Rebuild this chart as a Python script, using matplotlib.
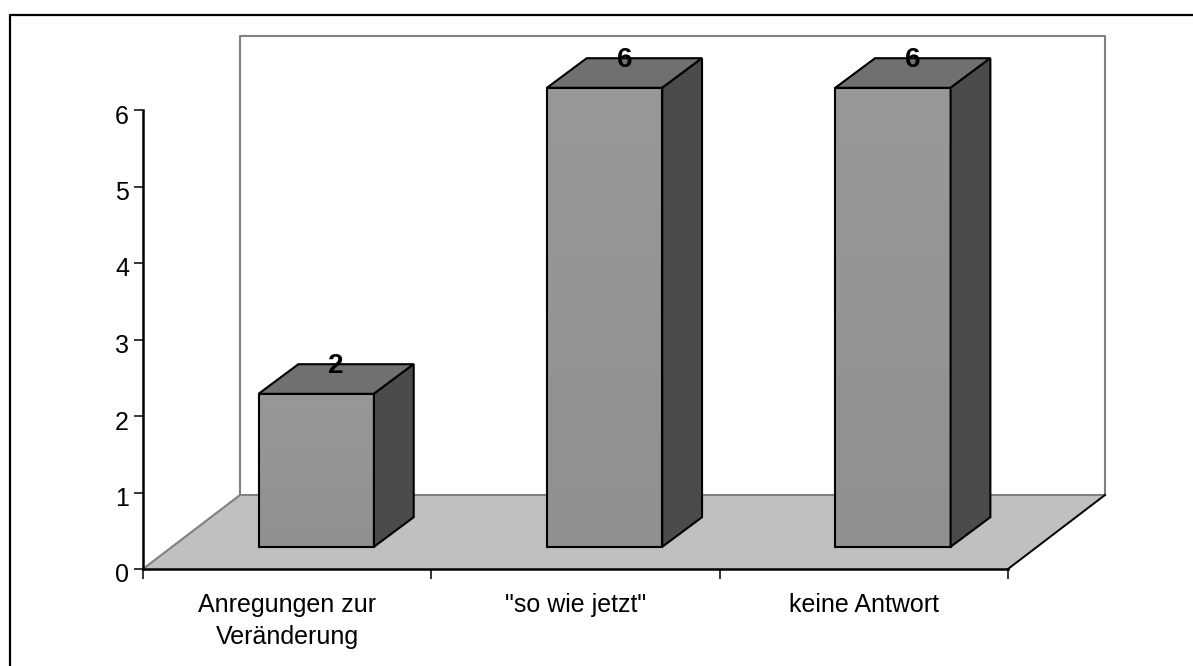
import numpy as np
import matplotlib
matplotlib.use("Agg")
import matplotlib.pyplot as plt
from matplotlib.colors import LinearSegmentedColormap
from matplotlib.lines import Line2D
from matplotlib.patches import Polygon
from matplotlib.transforms import ScaledTranslation

categories = ["Anregungen zur\nVeränderung", '"so wie jetzt"', "keine Antwort"]
values = [2, 6, 6]
y_ticks = [0, 1, 2, 3, 4, 5, 6]

W, H = 1193, 666
plt.rcParams["font.family"] = ["Liberation Sans", "DejaVu Sans"]

fig = plt.figure(figsize=(W / 100, H / 100), dpi=100, facecolor="white")
ax = fig.add_axes([143 / W, (H - 569) / H, 865 / W, 459 / H])

# depth of the fake 3d box in data units
dx = 97 / 865 * 3
dy = 74 / 459 * 6
bar_w = 0.4
front = 0.3
n = len(categories)


def shape(pts, face="none", edge="black", lw=1.5, z=3):
    p = Polygon(pts, closed=True, facecolor=face, edgecolor=edge, linewidth=lw,
                zorder=z, clip_on=False, joinstyle="miter")
    ax.add_patch(p)
    return p


# floor and back wall
shape([(0, 0), (dx, dy), (n + dx, dy), (n, 0)], face="#c0c0c0", edge="none", z=1)
ax.plot([0, dx, dx, n + dx, n + dx], [0, dy, 6 + dy, 6 + dy, dy],
        color="#808080", lw=1.5, zorder=1.5, clip_on=False)
ax.plot([dx, n + dx], [dy, dy], color="#808080", lw=1.5, zorder=1.5, clip_on=False)
ax.plot([n, n + dx], [0, dy], color="black", lw=1.4, zorder=1.5, clip_on=False)

# bars
grad = np.linspace(0, 1, 64).reshape(-1, 1)
cmap = LinearSegmentedColormap.from_list("front", ["#989898", "#909090"])
for i, v in enumerate(values):
    x0 = i + 0.5 - bar_w / 2 + front * dx
    x1 = x0 + bar_w
    y0 = front * dy
    y1 = y0 + v
    ox = 0.41 * dx
    oy = 0.4 * dy
    ax.imshow(grad, extent=(x0, x1, y0, y1), origin="upper", aspect="auto",
              cmap=cmap, zorder=3, clip_on=False)
    shape([(x0, y0), (x1, y0), (x1, y1), (x0, y1)])
    shape([(x0, y1), (x1, y1), (x1 + ox, y1 + oy), (x0 + ox, y1 + oy)], face="#707070")
    shape([(x1, y0), (x1 + ox, y0 + oy), (x1 + ox, y1 + oy), (x1, y1)], face="#4b4b4b")
    ax.annotate(str(v), ((x0 + x1 + ox) / 2, y1 + oy), xytext=(0, -1.5),
                textcoords="offset points", ha="center", va="center",
                fontsize=20, fontweight="bold", color="black", zorder=5,
                annotation_clip=False)

ax.set_xlim(0, n)
ax.set_ylim(0, 6)

ax.patch.set_visible(False)
for side in ("top", "right"):
    ax.spines[side].set_visible(False)
for side in ("left", "bottom"):
    ax.spines[side].set_linewidth(1.8)
    ax.spines[side].set_zorder(2)

ax.set_yticks(y_ticks)
ax.tick_params(axis="y", length=6.5, width=1.1, labelsize=18, pad=3.5)
# y labels sit a little below their ticks in the original
down = ScaledTranslation(0, -4 / 100, fig.dpi_scale_trans)
for lab in ax.get_yticklabels():
    lab.set_transform(lab.get_transform() + down)

ax.set_xticks(range(n + 1))
ax.set_xticklabels([])
ax.set_xticks(np.arange(n) + 0.5, labels=categories, minor=True)
ax.tick_params(axis="x", which="major", length=7.5, width=1.1)
ax.tick_params(axis="x", which="minor", length=0, labelsize=18, pad=17)
for lab in ax.get_xticklabels(minor=True):
    lab.set_linespacing(1.42)

# chart frame, only top and left show in the picture
fig.add_artist(Line2D([10 / W, 10 / W, 1], [0, (H - 15) / H, (H - 15) / H],
                      color="black", lw=1.6))

fig.savefig("out.png", dpi=100)
